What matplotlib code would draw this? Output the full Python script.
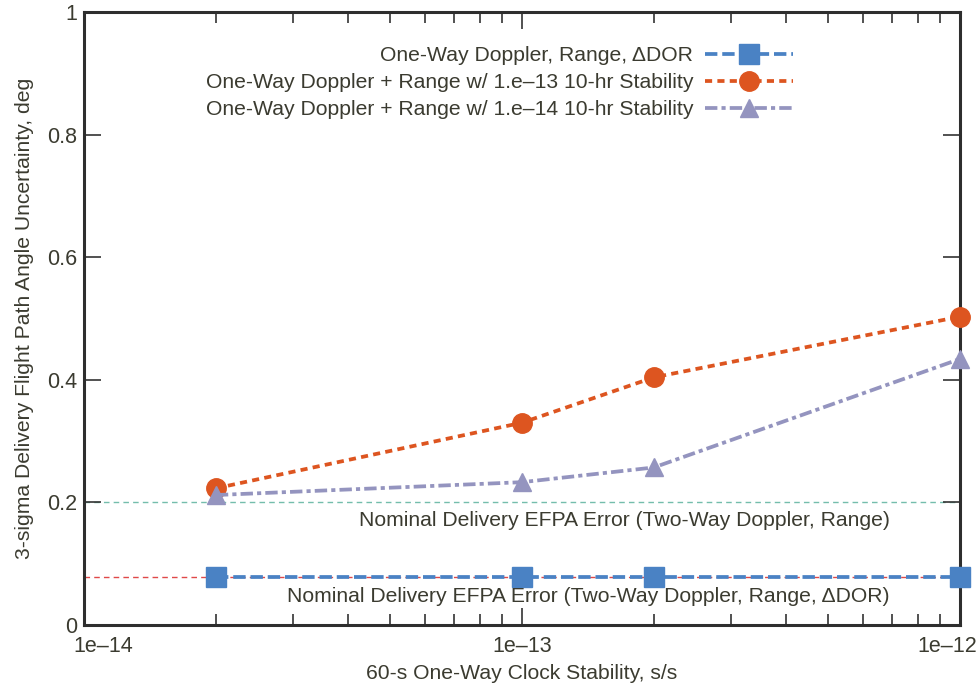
import matplotlib
matplotlib.use("Agg")
import matplotlib.pyplot as plt
import matplotlib.transforms as mtrans
from matplotlib.ticker import LogLocator, NullFormatter, FixedLocator, FixedFormatter

plt.rcParams['font.family'] = ['Liberation Sans', 'DejaVu Sans']

stability = [2e-14, 1e-13, 2e-13, 1e-12]
ddor = [0.078, 0.078, 0.078, 0.078]
stab13 = [0.223, 0.33, 0.404, 0.503]
stab14 = [0.212, 0.233, 0.257, 0.434]
nominal_2way = 0.2
nominal_ddor = 0.078
labels = ["One-Way Doppler, Range, \u0394DOR",
          "One-Way Doppler + Range w/ 1.e\u201313 10-hr Stability",
          "One-Way Doppler + Range w/ 1.e\u201314 10-hr Stability"]
xticks = [1e-14, 1e-13, 1e-12]
xticklabels = ["1e\u201314", "1e\u201313", "1e\u201312"]
yticks = [0, 0.2, 0.4, 0.6, 0.8, 1.0]
yticklabels = ["0", "0.2", "0.4", "0.6", "0.8", "1"]

tc = '#3b3b30'
fs = 15.2
fig = plt.figure(figsize=(9.79, 6.87), dpi=100)
ax = fig.add_axes([84/979, 62/687, 876/979, 613/687])

ax.axhline(nominal_2way, color='#74bdac', lw=1.0, ls=(0, (4, 3)), zorder=1)
ax.axhline(nominal_ddor, color='#e04848', lw=1.0, ls=(0, (4, 3)), zorder=1)

ax.plot(stability, ddor, color='#4a82c4', lw=2.7, ls=(0, (3.3, 1.3)), marker='s', ms=14,
        label=labels[0], zorder=3, clip_on=False)
ax.plot(stability, stab13, color='#dd5520', lw=2.7, ls=(0, (1.9, 1.4)), marker='o', ms=14,
        label=labels[1], zorder=3, clip_on=False)
ax.plot(stability, stab14, color='#9494bf', lw=2.7, ls=(0, (3.3, 1.1, 1.1, 1.1)), marker='^', ms=13.5,
        label=labels[2], zorder=3, clip_on=False)

ax.set_xscale('log')
ax.set_xlim(1e-14, 1e-12)
ax.set_ylim(0, 1)
ax.xaxis.set_major_locator(FixedLocator(xticks))
ax.xaxis.set_major_formatter(FixedFormatter(xticklabels))
ax.xaxis.set_minor_locator(LogLocator(base=10, subs=range(2, 10)))
ax.xaxis.set_minor_formatter(NullFormatter())
ax.yaxis.set_major_locator(FixedLocator(yticks))
ax.yaxis.set_major_formatter(FixedFormatter(yticklabels))

ax.tick_params(which='both', direction='in', top=True, right=True, colors='#333333',
               labelcolor=tc, labelsize=15.5, width=1.2)
ax.tick_params(which='major', length=12, pad=8)
ax.tick_params(which='minor', length=8)
ax.tick_params(axis='y', pad=5)

for s in ax.spines.values():
    s.set_linewidth(2.2)
    s.set_color('#2e2e2e')

fig.canvas.draw()
tl = ax.get_xticklabels()
tl[0].set_transform(tl[0].get_transform() + mtrans.ScaledTranslation(0.195, 0, fig.dpi_scale_trans))
tl[-1].set_transform(tl[-1].get_transform() + mtrans.ScaledTranslation(-0.13, 0, fig.dpi_scale_trans))

ax.set_xlabel("60-s One-Way Clock Stability, s/s", fontsize=fs, color=tc, labelpad=5)
ax.set_ylabel("3-sigma Delivery Flight Path Angle Uncertainty, deg", fontsize=fs, color=tc, labelpad=9)

ax.text(890/979, 1 - 520/687, "Nominal Delivery EFPA Error (Two-Way Doppler, Range)",
        transform=fig.transFigure, ha='right', va='center', fontsize=fs, color=tc)
ax.text(890/979, 1 - 597/687, "Nominal Delivery EFPA Error (Two-Way Doppler, Range, \u0394DOR)",
        transform=fig.transFigure, ha='right', va='center', fontsize=fs, color=tc)

leg = ax.legend(loc='upper right', bbox_to_anchor=(801/979, 1 - 38/687), bbox_transform=fig.transFigure,
                frameon=False, markerfirst=False, numpoints=1, handlelength=4.15, fontsize=fs,
                labelspacing=0.38, handletextpad=0.56, borderaxespad=0)
for t in leg.get_texts():
    t.set_color(tc)

fig.savefig("out.png", dpi=100)
